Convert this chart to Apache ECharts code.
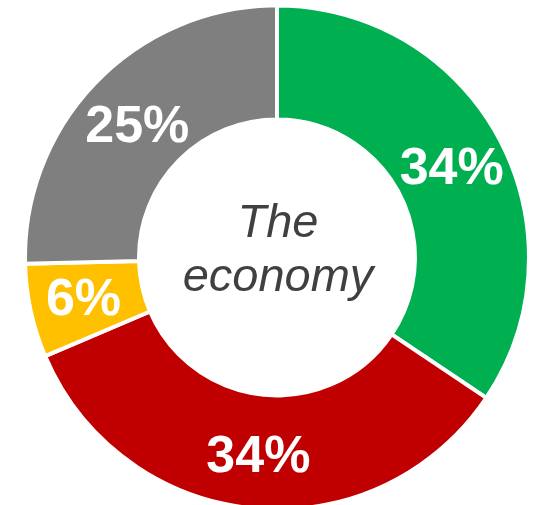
<!DOCTYPE html>
<html>
<head>
<meta charset="utf-8">
<style>html,body{margin:0;padding:0;background:#fff;}#c{width:537px;height:505px;}</style>
<script src="https://cdn.jsdelivr.net/npm/echarts@6/dist/echarts.min.js"></script>
</head>
<body>
<div id="c"></div>
<script>
var categories = ['Green', 'Red', 'Yellow', 'Gray'];
var values = [34.4, 34.2, 6.0, 25.4];
var colors = ['#00B050', '#C00000', '#FFC000', '#7F7F7F'];
var labelOffsets = [[0, 5], [0, 3], [0, 1], [2, 8]];
var centerText = 'The\neconomy';

var chart = echarts.init(document.getElementById('c'), null, {renderer: 'canvas'});
chart.setOption({
  animation: false,
  series: [{
    type: 'pie',
    center: [277, 257.5],
    radius: [138, 252],
    startAngle: 90,
    clockwise: true,
    avoidLabelOverlap: false,
    itemStyle: {borderColor: '#ffffff', borderWidth: 4},
    label: {
      show: true,
      position: 'inside',
      color: '#ffffff',
      fontFamily: 'Liberation Sans, Arial, sans-serif',
      fontWeight: 'bold',
      fontSize: 52,
      formatter: function (p) { return Math.round(p.percent) + '%'; }
    },
    labelLine: {show: false},
    emphasis: {disabled: true},
    data: categories.map(function (c, i) {
      return {
        name: c,
        value: values[i],
        itemStyle: {color: colors[i]},
        label: {offset: labelOffsets[i]}
      };
    })
  }],
  graphic: [{
    type: 'text',
    x: 278,
    y: 251,
    style: {
      text: centerText,
      fill: '#404040',
      font: 'italic 47px "Liberation Sans", Arial, sans-serif',
      align: 'center',
      verticalAlign: 'middle',
      lineHeight: 54
    }
  }]
});
</script>
</body>
</html>
